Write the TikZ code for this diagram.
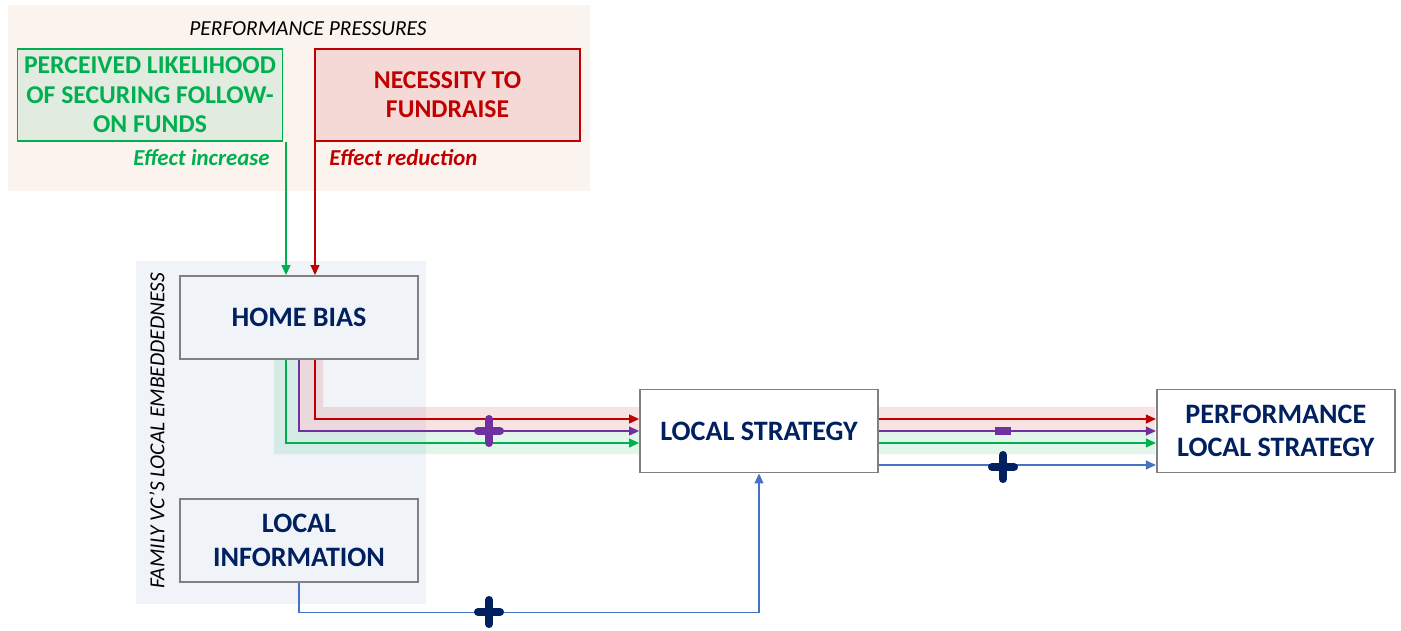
\documentclass[tikz,border=0pt]{standalone}
\usepackage{fontspec}
\setmainfont{Carlito}
\usepackage{tikz}
\usetikzlibrary{
  arrows.meta,
  positioning
}
\definecolor{navyink}{RGB}{0,32,96}
\definecolor{incgreen}{RGB}{0,176,80}
\definecolor{redred}{RGB}{192,0,0}
\definecolor{linkpurple}{RGB}{112,48,160}
\definecolor{linkblue}{RGB}{68,114,196}
\definecolor{boxgray}{RGB}{128,128,128}
\definecolor{peach}{RGB}{251,243,238}
\definecolor{mist}{RGB}{240,243,248}
\definecolor{sage}{RGB}{226,235,223}
\definecolor{blush}{RGB}{245,217,214}
\tikzset{
  factor/.style={draw=boxgray,line width=1.1pt,fill=mist,align=center,
    text=navyink,font=\fontsize{16}{19}\selectfont\bfseries,
    minimum width=4.76cm,minimum height=1.66cm,inner sep=0pt},
  outcome/.style={factor,fill=white},
  pressure/.style={line width=1pt,align=center,inner sep=0pt,
    font=\fontsize{14.6}{16.7}\selectfont\bfseries,
    minimum width=5.3cm,minimum height=1.84cm},
  effectlab/.style={font=\fontsize{13}{13}\selectfont\bfseries\itshape,inner sep=0pt},
  grouplab/.style={font=\fontsize{12.2}{12}\selectfont\itshape,inner sep=0pt},
  flow/.style={-{Triangle[length=2mm,width=1.8mm]},line width=0.65pt},
  redflow/.style={flow,draw=redred},
  greenflow/.style={flow,draw=incgreen},
  purpleflow/.style={flow,draw=linkpurple},
  blueflow/.style={flow,draw=linkblue},
  signplus/.pic={\draw[line width=4.6pt,line cap=round,#1]
    (-11,0) -- (11,0) (0,-12) -- (0,12);},
  signminus/.pic={\draw[line width=4.4pt,rounded corners=1pt,#1]
    (-8,0) -- (8,0);}
}

\begin{document}
\begin{tikzpicture}[x=0.02cm,y=-0.02cm]
  \useasboundingbox (0,0) rectangle (1401,630);
  % group backgrounds
  \fill[peach] (8,5) rectangle (590,191);
  \fill[mist] (136,261) rectangle (426,604);
  \node[grouplab] (pplab) at (308,29) {PERFORMANCE PRESSURES};
  \node[grouplab,rotate=90] (emlab) at (157,431) {FAMILY VC’S LOCAL EMBEDDEDNESS};

  % effect bands
  \fill[redred,fill opacity=0.11] (299,359) -- (323,359) -- (323,407)
    -- (1155,407) -- (1155,432) -- (299,432) -- cycle;
  \fill[incgreen,fill opacity=0.11] (274,359) -- (299,359) -- (299,432)
    -- (1155,432) -- (1155,454) -- (274,454) -- cycle;

  % pressures
  \node[pressure,draw=incgreen,fill=sage,text=incgreen] (follow) at (150,95)
    {PERCEIVED LIKELIHOOD\\OF SECURING FOLLOW-\\ON FUNDS};
  \node[pressure,draw=redred,fill=blush,text=redred] (fundraise) at (447.5,95)
    {NECESSITY TO\\FUNDRAISE};
  \node[effectlab,text=incgreen,anchor=east] (inclab) at (270,158) {Effect increase};
  \node[effectlab,text=redred,anchor=west] (redlab) at (329,158) {Effect reduction};

  % model
  \node[factor] (homebias) at (299,317.5) {HOME BIAS};
  \node[factor,below=2.76cm of homebias] (localinfo) {LOCAL\\INFORMATION};
  \node[outcome] (localstrat) at (759,431) {LOCAL STRATEGY};
  \node[outcome,right=5.54cm of localstrat] (perf) {PERFORMANCE\\LOCAL STRATEGY};

  \coordinate (gin) at ([xshift=-0.26cm]homebias.north);
  \coordinate (rin) at ([xshift=0.32cm]homebias.north);
  \draw[greenflow] (gin |- follow.south) -- (gin);
  \draw[redflow] (rin |- fundraise.south) -- (rin);

  \coordinate (gout) at ([xshift=-0.26cm]homebias.south);
  \coordinate (rout) at ([xshift=0.32cm]homebias.south);
  \coordinate (rhit) at ([yshift=0.24cm]localstrat.west);
  \coordinate (ghit) at ([yshift=-0.24cm]localstrat.west);
  \draw[redflow] (rout) |- (rhit);
  \draw[purpleflow] (homebias.south) |- (localstrat.west);
  \draw[greenflow] (gout) |- (ghit);

  \coordinate (rleave) at ([yshift=0.24cm]localstrat.east);
  \coordinate (gleave) at ([yshift=-0.24cm]localstrat.east);
  \coordinate (bleave) at ([yshift=-0.68cm]localstrat.east);
  \draw[redflow] (rleave) -- (rleave -| perf.west);
  \draw[purpleflow] (localstrat.east) -- (localstrat.east -| perf.west);
  \draw[greenflow] (gleave) -- (gleave -| perf.west);
  \draw[blueflow] (bleave) -- (bleave -| perf.west);
  \draw[blueflow] (localinfo.south) -- ++(0,30) -| (localstrat.south);

  % signs
  \pic at (489,431) {signplus=linkpurple};
  \pic at (1003,431) {signminus=linkpurple};
  \pic at (1003,467) {signplus=navyink};
  \pic at (489,612) {signplus=navyink};
\end{tikzpicture}
\end{document}
